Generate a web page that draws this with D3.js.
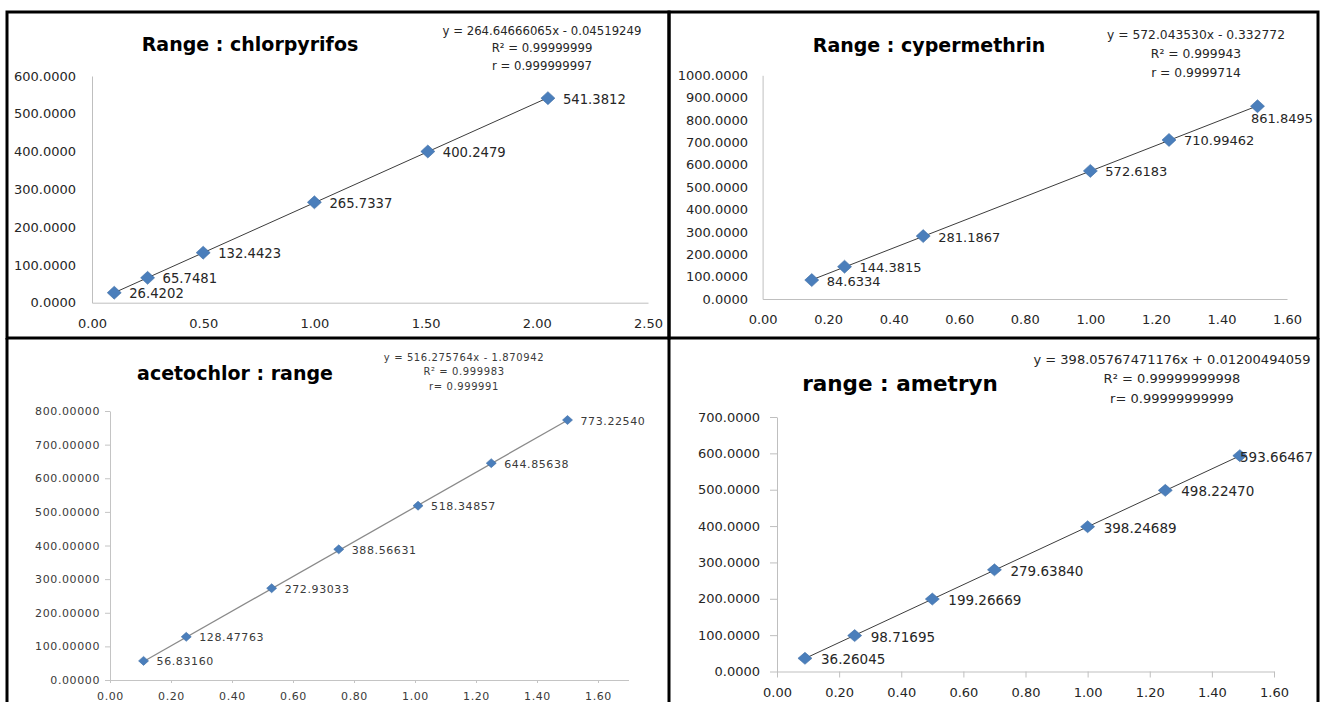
<!DOCTYPE html>
<html>
<head>
<meta charset="utf-8">
<script src="https://cdn.jsdelivr.net/npm/d3@7"></script>
<style>
  body { margin: 0; background: #fff; }
  svg { display: block; font-family: 'DejaVu Sans', sans-serif; }
</style>
</head>
<body>
<svg id="chart" width="1325" height="702"></svg>
<script>
// ---- values ----

const titles = ['Range : chlorpyrifos', 'Range : cypermethrin', 'acetochlor : range', 'range : ametryn']

const chlorX = [0.10, 0.25, 0.50, 1.00, 1.51, 2.05]
const chlorY = [26.4202, 65.7481, 132.4423, 265.7337, 400.2479, 541.3812]

const cyperX = [0.15, 0.25, 0.49, 1.00, 1.24, 1.51]
const cyperY = [84.6334, 144.3815, 281.1867, 572.6183, 710.99462, 861.8495]

const acetoX = [0.11, 0.25, 0.53, 0.75, 1.01, 1.25, 1.50]
const acetoY = [56.83160, 128.47763, 272.93033, 388.56631, 518.34857, 644.85638, 773.22540]

const ametX = [0.09, 0.25, 0.50, 0.70, 1.00, 1.25, 1.49]
const ametY = [36.26045, 98.71695, 199.26669, 279.63840, 398.24689, 498.22470, 593.66467]

// trendlines (slope, intercept) and the printed equation boxes
const slopes = [264.64666065, 572.043530, 516.275764, 398.05767471176]
const intercepts = [-0.04519249, -0.332772, -1.870942, 0.01200494059]

const equations = [
  ['y = 264.64666065x - 0.04519249', 'R² = 0.99999999', 'r = 0.999999997'],
  ['y = 572.043530x - 0.332772', 'R² = 0.999943', 'r = 0.9999714'],
  ['y = 516.275764x - 1.870942', 'R² = 0.999983', 'r= 0.999991'],
  ['y = 398.05767471176x + 0.01200494059', 'R² = 0.99999999998', 'r= 0.99999999999']
]

// axis maxima / steps
const xMaxes = [2.5, 1.6, 1.7, 1.6]
const xTickMaxes = [2.5, 1.6, 1.6, 1.6]
const xSteps = [0.5, 0.2, 0.2, 0.2]
const yMaxes = [600, 1000, 800, 700]
const ySteps = [100, 100, 100, 100]
const yFormats = ['.4f', '.4f', '.5f', '.4f']

const seriesX = [chlorX, cyperX, acetoX, ametX]
const seriesY = [chlorY, cyperY, acetoY, ametY]
const labelFmt = [v => String(v), v => String(v), v => v.toFixed(5), v => v.toFixed(5)]

// ---- layout per panel ----
const layout = [
  { frameRight: 669, plot: { left: 92, right: 648, top: 76, bottom: 302.7 },
    titleX: 250, titleY: 44, titleSize: 19,
    eqX: 542, eqY: [31, 48, 65.5], eqSize: 11.7,
    tickFont: 13, labelFont: 13.2, yTick: 0, yGap: 16, xTick: 0, xLabelY: 323,
    marker: [7, 6.5], labelOff: 15, ls: 0,
    text: '#262626', axis: '#bfbfbf', trend: '#3c3c3c', trendW: 1 },
  { frameRight: 1318, plot: { left: 762.6, right: 1287, top: 75.3, bottom: 299 },
    titleX: 929, titleY: 45, titleSize: 19,
    eqX: 1196, eqY: [35, 54, 73], eqSize: 12.3,
    tickFont: 13, labelFont: 13, yTick: 0, yGap: 14.6, xTick: 0, xLabelY: 319,
    marker: [7, 6.5], labelOff: 15, ls: 0,
    text: '#262626', axis: '#bfbfbf', trend: '#3c3c3c', trendW: 1 },
  { frameRight: 669, plot: { left: 110, right: 628.5, top: 411, bottom: 680 },
    titleX: 235, titleY: 373, titleSize: 19,
    eqX: 464, eqY: [357, 371, 386], eqSize: 10,
    tickFont: 11, labelFont: 11, yTick: 5, yGap: 10, xTick: 3, xLabelY: 696,
    marker: [5, 4.5], labelOff: 13, ls: 0.6,
    text: '#3a3a3a', axis: '#c4c4c4', trend: '#8a8a8a', trendW: 1.3 },
  { frameRight: 1318, plot: { left: 777, right: 1274, top: 417, bottom: 671.5 },
    titleX: 900, titleY: 383, titleSize: 21.5,
    eqX: 1172, eqY: [359, 378, 398], eqSize: 13,
    tickFont: 13, labelFont: 13.5, yTick: 7, yGap: 17, xTick: 6, xLabelY: 692,
    marker: [7, 6], labelOff: 16, ls: 0,
    text: '#262626', axis: '#bfbfbf', trend: '#3c3c3c', trendW: 1 }
]

const svg = d3.select('#chart')
svg.append('rect').attr('width', 1325).attr('height', 702).attr('fill', '#fff')

layout.forEach((p, i) => drawPanel(i, p))

// black frames around the four charts
const frame = svg.append('g').attr('fill', 'none').attr('stroke', '#000').attr('stroke-width', 3)
frame.append('rect').attr('x', 7).attr('y', 12).attr('width', 662).attr('height', 326)
frame.append('rect').attr('x', 669).attr('y', 12).attr('width', 649).attr('height', 326)
frame.append('line').attr('x1', 7).attr('x2', 7).attr('y1', 338).attr('y2', 702)
frame.append('line').attr('x1', 669).attr('x2', 669).attr('y1', 338).attr('y2', 702)
frame.append('line').attr('x1', 1318).attr('x2', 1318).attr('y1', 338).attr('y2', 702)

function drawPanel(i, p) {
  const xs = seriesX[i]
  const ys = seriesY[i]
  const pts = xs.map((v, k) => ({ x: v, y: ys[k] }))

  const x = d3.scaleLinear().domain([0, xMaxes[i]]).range([p.plot.left, p.plot.right])
  const y = d3.scaleLinear().domain([0, yMaxes[i]]).range([p.plot.bottom, p.plot.top])

  const g = svg.append('g')

  // axes
  const yAxis = d3.axisLeft(y)
    .tickValues(d3.range(0, yMaxes[i] + 1e-9, ySteps[i]))
    .tickFormat(d3.format(yFormats[i]))
    .tickSizeInner(p.yTick).tickSizeOuter(0)
    .tickPadding(p.yGap - p.yTick)
  const xAxis = d3.axisBottom(x)
    .tickValues(d3.range(0, xTickMaxes[i] + 1e-9, xSteps[i]))
    .tickFormat(d3.format('.2f'))
    .tickSizeInner(p.xTick).tickSizeOuter(0)

  const ya = g.append('g').attr('transform', `translate(${p.plot.left},0)`).call(yAxis)
  const xa = g.append('g').attr('transform', `translate(0,${p.plot.bottom})`).call(xAxis)

  for (const a of [ya, xa]) {
    a.attr('font-family', null).attr('font-size', p.tickFont)
    a.select('.domain').attr('stroke', p.axis)
    a.selectAll('.tick line').attr('stroke', p.axis)
    a.selectAll('text').attr('fill', p.text).attr('letter-spacing', p.ls)
  }
  xa.selectAll('text').attr('y', p.xLabelY - p.plot.bottom).attr('dy', '0.35em')

  // title
  g.append('text')
    .attr('x', p.titleX).attr('y', p.titleY)
    .attr('text-anchor', 'middle').attr('dominant-baseline', 'central')
    .attr('font-weight', 'bold').attr('font-size', p.titleSize)
    .attr('fill', '#000')
    .text(titles[i])

  // equation / R² / r
  g.selectAll('text.eq').data(equations[i]).join('text')
    .attr('class', 'eq')
    .attr('x', p.eqX).attr('y', (d, k) => p.eqY[k])
    .attr('text-anchor', 'middle').attr('dominant-baseline', 'central')
    .attr('font-size', p.eqSize).attr('letter-spacing', p.ls)
    .attr('fill', p.text)
    .text(d => d)

  // trendline over the data range
  const x0 = d3.min(xs)
  const x1 = d3.max(xs)
  const fit = v => slopes[i] * v + intercepts[i]
  g.append('path')
    .datum([x0, x1])
    .attr('fill', 'none')
    .attr('stroke', p.trend).attr('stroke-width', p.trendW)
    .attr('d', d3.line().x(v => x(v)).y(v => y(fit(v))))

  // diamond markers
  const [mw, mh] = p.marker
  g.selectAll('path.pt').data(pts).join('path')
    .attr('class', 'pt')
    .attr('transform', d => `translate(${x(d.x)},${y(d.y)})`)
    .attr('d', `M0,${-mh}L${mw},0L0,${mh}L${-mw},0Z`)
    .attr('fill', '#4a7ebb').attr('stroke', '#3f6fa6').attr('stroke-width', 0.6)

  // data labels, pushed back inside the frame when they would run out
  const limit = p.frameRight - 5
  g.selectAll('text.lbl').data(pts).join('text')
    .attr('class', 'lbl')
    .attr('font-size', p.labelFont).attr('letter-spacing', p.ls)
    .attr('fill', p.text)
    .attr('dominant-baseline', 'central')
    .text(d => labelFmt[i](d.y))
    .each(function (d) {
      const w = this.getComputedTextLength()
      const px = x(d.x)
      let lx = px + p.labelOff
      let ly = y(d.y) + 1
      if (lx + w > limit) {
        lx = limit - w
        if (lx < px) ly += 11
      }
      d3.select(this).attr('x', lx).attr('y', ly)
    })
}
</script>
</body>
</html>
